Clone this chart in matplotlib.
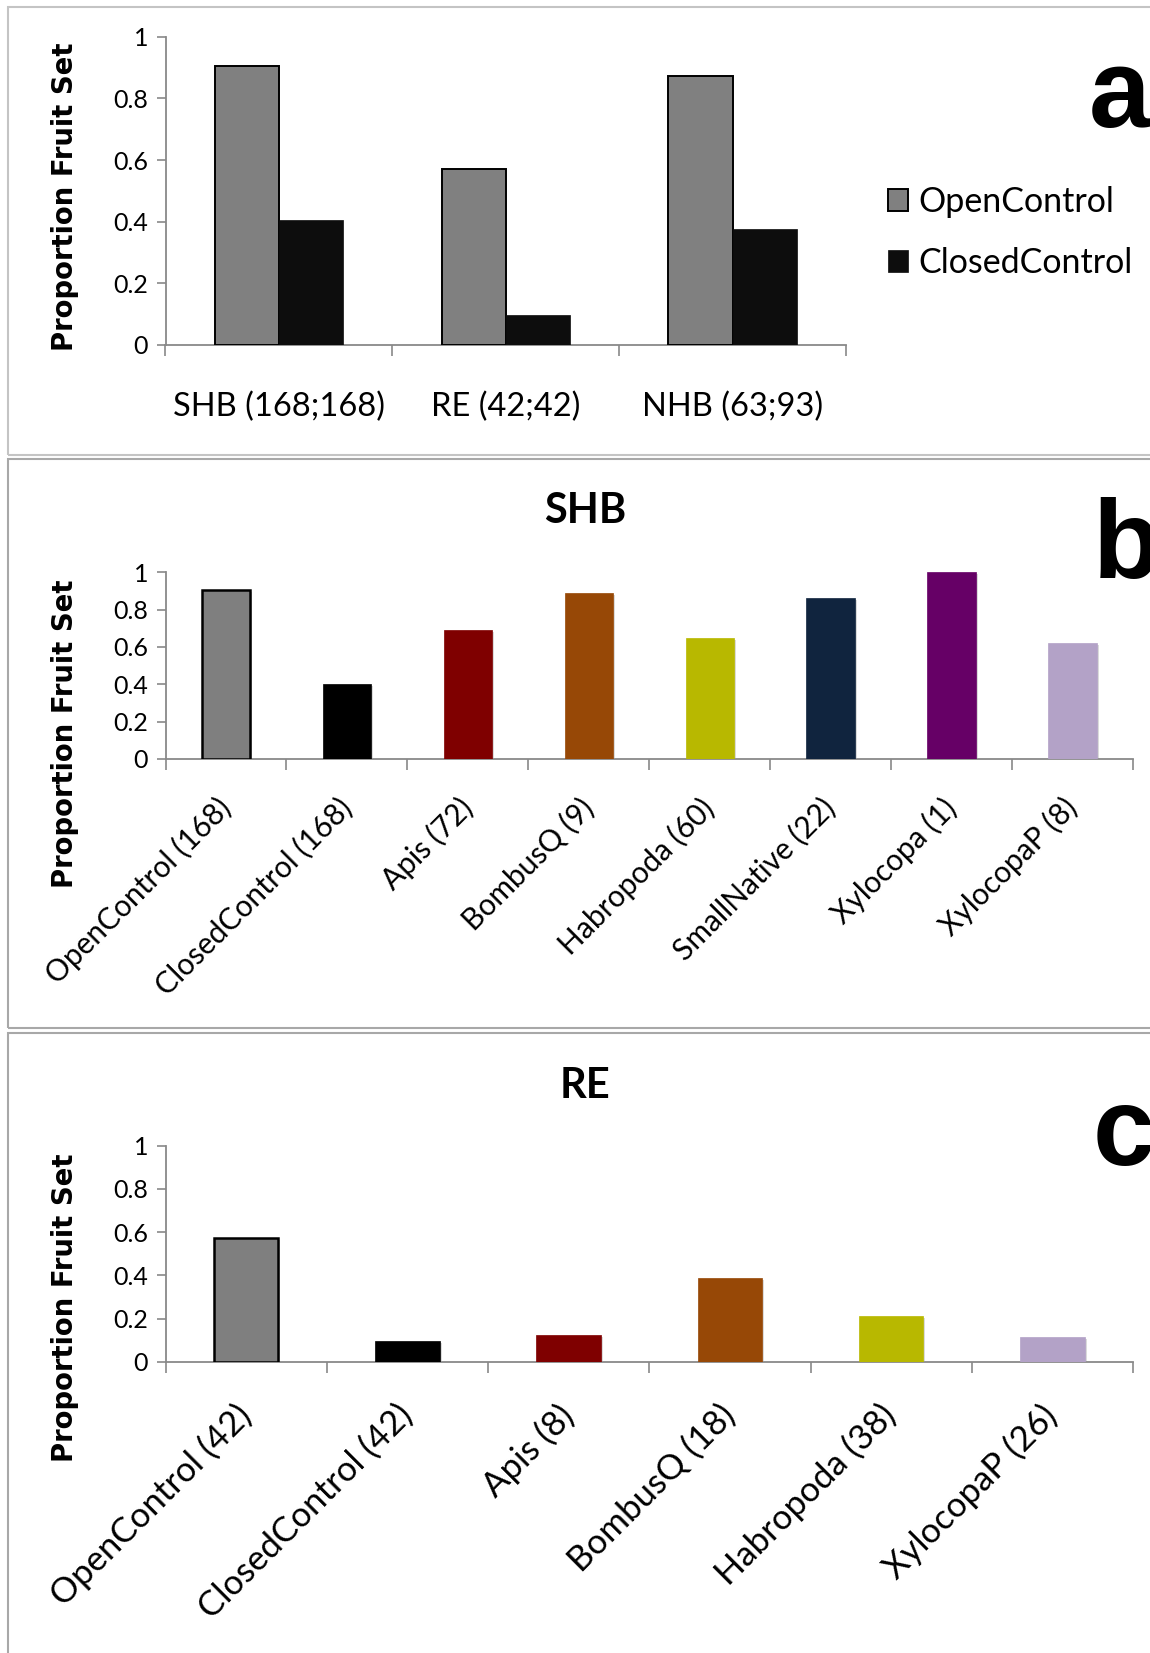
import matplotlib
matplotlib.use("Agg")
import matplotlib.pyplot as plt
from matplotlib.patches import Rectangle
from matplotlib import patheffects as pe
import numpy as np

# Panel a: proportion fruit set per site, open vs closed controls
sites = ["SHB (168;168)", "RE (42;42)", "NHB (63;93)"]
open_control = [0.904, 0.572, 0.873]
closed_control = [0.404, 0.095, 0.376]

# Panel b: SHB, by treatment / visitor
shb_labels = ["OpenControl (168)", "ClosedControl (168)", "Apis (72)", "BombusQ (9)",
              "Habropoda (60)", "SmallNative (22)", "Xylocopa (1)", "XylocopaP (8)"]
shb_values = [0.907, 0.401, 0.692, 0.891, 0.649, 0.863, 1.0, 0.623]

# Panel c: RE, by treatment / visitor
re_labels = ["OpenControl (42)", "ClosedControl (42)", "Apis (8)", "BombusQ (18)",
             "Habropoda (38)", "XylocopaP (26)"]
re_values = [0.575, 0.096, 0.123, 0.389, 0.212, 0.114]

colors = {
    "OpenControl": "#7F7F7F",
    "ClosedControl": "#000000",
    "Apis": "#7F0000",
    "BombusQ": "#974806",
    "Habropoda": "#B8B800",
    "SmallNative": "#10243E",
    "Xylocopa": "#660066",
    "XylocopaP": "#B3A2C7",
}

W, H = 1150, 1653
DPI = 100
fig = plt.figure(figsize=(W / DPI, H / DPI), dpi=DPI)

AXIS_GRAY = "#898989"
BODY = "Lato"
YLAB_FONT = "DejaVu Sans"


def px_axes(left, top, right, bottom):
    return fig.add_axes([left / W, 1 - bottom / H, (right - left) / W, (bottom - top) / H])


def style_axes(ax, n):
    ax.set_ylim(0, 1)
    ax.set_xlim(-0.5, n - 0.5)
    for s in ("top", "right"):
        ax.spines[s].set_visible(False)
    for s in ("left", "bottom"):
        ax.spines[s].set_color(AXIS_GRAY)
        ax.spines[s].set_linewidth(1.3)
    ax.set_yticks([0, 0.2, 0.4, 0.6, 0.8, 1.0])
    ax.set_yticklabels(["0", "0.2", "0.4", "0.6", "0.8", "1"], family=BODY, fontsize=18)
    ax.tick_params(axis="y", length=6.5, width=1.2, color=AXIS_GRAY, pad=6)
    # category boundaries get the tick marks, centres carry the labels
    ax.set_xticks(np.arange(-0.5, n, 1.0), minor=True)
    ax.tick_params(axis="x", which="minor", length=8, width=1.2, color=AXIS_GRAY)
    ax.tick_params(axis="x", which="major", length=0)


def panel_box(top, bottom, color):
    fig.patches.append(Rectangle((8 / W, 1 - bottom / H), 1.2, (bottom - top) / H,
                                 transform=fig.transFigure, fill=False,
                                 edgecolor=color, linewidth=1.5))


def ylabel(xc, yc):
    fig.text(xc / W, 1 - yc / H, "Proportion Fruit Set", rotation=90, ha="center",
             va="center", family=YLAB_FONT, fontweight="bold", fontsize=19.8)


def letter(x, baseline, s):
    fig.text(x / W, 1 - baseline / H, s, ha="left", va="baseline",
             family="Liberation Sans", fontweight="bold", fontsize=80)


panel_box(7, 455, "#C4C4C4")
panel_box(459, 1028, "#A8A8A8")
panel_box(1033, 1700, "#A8A8A8")

shadow = [pe.SimplePatchShadow(offset=(1.5, -1.5), shadow_rgbFace="#999999", alpha=0.35),
          pe.Normal()]

# ---- panel a ----
ax = px_axes(165.5, 36.9, 846, 344.7)
style_axes(ax, len(sites))
x = np.arange(len(sites))
bw = 0.283
ax.bar(x - bw / 2, open_control, bw, color="#808080", edgecolor="black",
       linewidth=1.4, label="OpenControl", zorder=3)
ax.bar(x + bw / 2, closed_control, bw, color="#0D0D0D", edgecolor="#0D0D0D",
       linewidth=0.5, label="ClosedControl", zorder=3)
ax.set_xticks(x)
ax.set_xticklabels(sites, family=BODY, fontsize=23.5, va="center")
ax.tick_params(axis="x", which="major", pad=45)
ax.legend(loc="upper left", bbox_to_anchor=(888 / W, 1 - 186 / H),
          bbox_transform=fig.transFigure, frameon=False,
          prop={"family": BODY, "size": 24.5}, handlelength=0.6,
          handleheight=0.6, handletextpad=0.3, labelspacing=0.85,
          borderpad=0, borderaxespad=0)
ylabel(65, 197)
letter(1089, 127, "a")


def category_panel(top, bottom, labels, values, title, title_y, ylab_y, fs, pad, let, let_base):
    ax = px_axes(165.5, top, 1133, bottom)
    style_axes(ax, len(labels))
    xx = np.arange(len(labels))
    for i, (lab, v) in enumerate(zip(labels, values)):
        key = lab.split(" ")[0]
        is_open = key == "OpenControl"
        b = ax.bar(xx[i], v, 0.40, color=colors[key],
                   edgecolor="black" if is_open else colors[key],
                   linewidth=1.8 if is_open else 0.5, zorder=3)
        b[0].set_path_effects(shadow)
    ax.set_xticks(xx)
    ax.set_xticklabels(labels, family=BODY, fontsize=fs, rotation=45, ha="right",
                       va="center", rotation_mode="anchor")
    ax.tick_params(axis="x", which="major", pad=pad)
    fig.text(585 / W, 1 - title_y / H, title, ha="center", va="center",
             family=BODY, fontweight="bold", fontsize=30)
    ylabel(65, ylab_y)
    letter(1093, let_base, let)


category_panel(572.3, 758.9, shb_labels, shb_values, "SHB", 511, 734, 21.5, 32, "b", 578)
category_panel(1145.7, 1361.8, re_labels, re_values, "RE", 1086, 1308, 25, 35, "c", 1165)

fig.savefig("out.png", dpi=DPI)
